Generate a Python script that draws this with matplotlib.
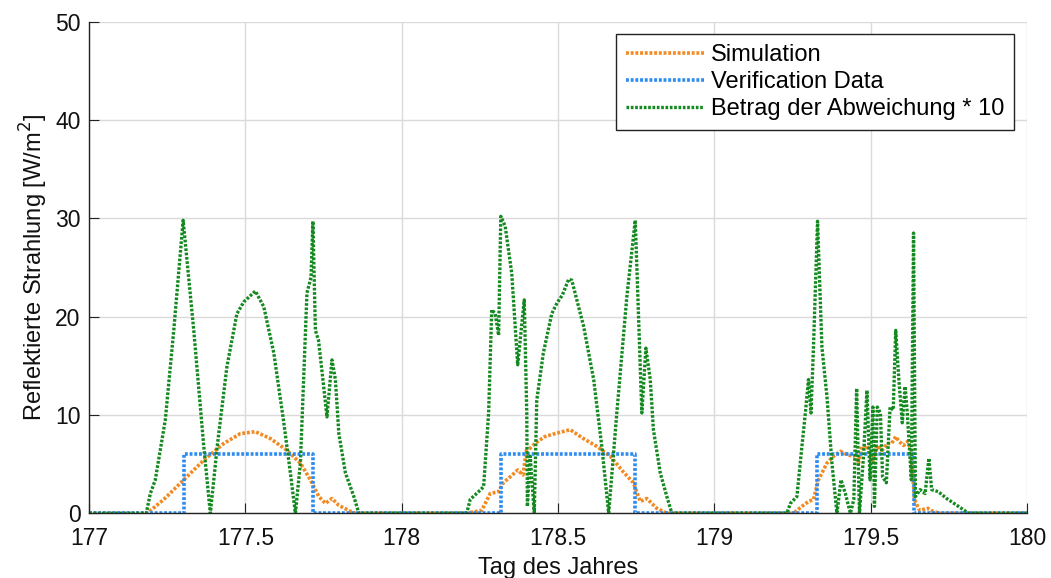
import numpy as np
import matplotlib.pyplot as plt

plt.rcParams['font.family'] = ['Liberation Sans', 'DejaVu Sans']

# Simulation (W/m^2) over day of year
sim_day = [177.0, 177.186, 177.239, 177.303, 177.367, 177.431, 177.484, 177.532,
           177.580, 177.633, 177.676, 177.708, 177.735, 177.756, 177.777, 177.799,
           177.836, 177.852,
           178.208, 178.256, 178.283, 178.309, 178.325, 178.347, 178.371, 178.388,
           178.399, 178.410, 178.426, 178.458, 178.490, 178.539, 178.581, 178.624,
           178.667, 178.709, 178.741, 178.763, 178.784, 178.816, 178.848,
           179.253, 179.280, 179.301, 179.317, 179.333, 179.360, 179.381, 179.403,
           179.429, 179.451, 179.461, 179.472, 179.488, 179.504, 179.520, 179.536,
           179.553, 179.567, 179.580, 179.591, 179.605, 179.618, 179.629, 179.640,
           179.656, 179.683, 179.699, 179.720, 180.0]
sim_val = [0.0, 0.0, 1.4, 3.4, 5.4, 7.1, 8.1, 8.3,
           7.6, 6.4, 5.1, 3.4, 1.7, 1.0, 1.5, 0.8,
           0.2, 0.0,
           0.0, 0.3, 2.0, 2.2, 3.1, 3.7, 4.4, 3.9,
           6.4, 6.6, 7.1, 7.8, 8.1, 8.5, 7.6, 6.8,
           5.8, 4.2, 3.1, 1.2, 1.5, 0.5, 0.0,
           0.0, 0.7, 1.2, 1.4, 3.4, 5.1, 5.8, 6.3,
           5.9, 5.8, 5.1, 6.8, 6.9, 5.1, 6.9, 6.4,
           7.1, 7.1, 7.8, 7.3, 6.9, 7.3, 6.4, 1.4,
           0.3, 0.5, 0.2, 0.0, 0.0]

# Verification data: constant level while measured
ver_on = [177.303, 178.317, 179.328]
ver_off = [177.717, 178.747, 179.639]
ver_level = 6.0

# Absolute deviation * 10
dev_day = [177.0, 177.183, 177.196, 177.212, 177.244, 177.271, 177.301, 177.335,
           177.367, 177.388, 177.410, 177.441, 177.473, 177.495, 177.532, 177.559,
           177.591, 177.623, 177.644, 177.660, 177.676, 177.697, 177.710, 177.716,
           177.724, 177.734, 177.748, 177.761, 177.777, 177.788, 177.799, 177.820,
           177.847, 177.863,
           178.208, 178.219, 178.246, 178.262, 178.278, 178.288, 178.299, 178.310,
           178.317, 178.331, 178.352, 178.371, 178.392, 178.400, 178.402, 178.411,
           178.424, 178.432, 178.453, 178.480, 178.497, 178.514, 178.534, 178.544,
           178.582, 178.614, 178.640, 178.662, 178.688, 178.720, 178.747, 178.768,
           178.781, 178.795, 178.805, 178.827, 178.848, 178.864,
           179.232, 179.243, 179.264, 179.280, 179.291, 179.301, 179.309, 179.317,
           179.330, 179.344, 179.360, 179.376, 179.392, 179.405, 179.419, 179.435,
           179.446, 179.455, 179.464, 179.477, 179.488, 179.498, 179.507, 179.512,
           179.521, 179.531, 179.538, 179.550, 179.562, 179.572, 179.580, 179.590,
           179.601, 179.610, 179.617, 179.630, 179.637, 179.643, 179.658, 179.674,
           179.686, 179.695, 179.716, 179.743, 179.776, 179.813, 180.0]
dev_val = [0.0, 0.0, 2.0, 3.4, 9.5, 18.6, 29.8, 18.6,
           6.8, 0.0, 6.8, 14.9, 20.3, 21.5, 22.6, 21.0,
           16.3, 9.2, 4.1, 0.0, 5.1, 22.4, 24.0, 29.7,
           18.6, 17.6, 13.6, 9.8, 15.6, 13.6, 8.1, 4.1,
           1.7, 0.0,
           0.0, 1.4, 2.2, 2.7, 10.2, 20.7, 20.3, 18.1,
           30.2, 29.2, 24.4, 15.1, 21.7, 10.2, 0.7, 5.8,
           0.0, 11.5, 16.3, 20.3, 21.4, 22.2, 23.8, 23.7,
           19.0, 13.6, 6.8, 0.0, 10.2, 22.0, 29.8, 10.2,
           16.8, 13.6, 8.5, 4.1, 1.7, 0.0,
           0.0, 1.0, 1.7, 6.8, 10.2, 13.6, 10.2, 16.9,
           29.7, 16.9, 11.9, 5.1, 0.0, 3.4, 2.0, 0.0,
           1.4, 12.7, 0.0, 5.8, 12.5, 3.4, 10.8, 0.7,
           10.8, 10.2, 3.7, 3.1, 10.8, 10.5, 18.6, 13.6,
           9.2, 12.9, 10.2, 3.4, 28.5, 1.7, 2.4, 2.0,
           5.6, 2.4, 2.2, 1.5, 0.8, 0.0, 0.0]

# build the step curve for the verification series
ver_day = [177.0]
ver_val = [0.0]
for a, b in zip(ver_on, ver_off):
    ver_day += [a, a, b, b]
    ver_val += [0.0, ver_level, ver_level, 0.0]
ver_day.append(180.0)
ver_val.append(0.0)

fig = plt.figure(figsize=(10.51, 5.78), dpi=100)
ax = fig.add_axes([0.0847, 0.112, 0.8925, 0.8505])

dots = (0, (0.8, 0.5))
ax.plot(sim_day, sim_val, color='#F28A23', lw=2.6, ls=dots, label='Simulation')
ax.plot(ver_day, ver_val, color='#2E8CF0', lw=2.6, ls=dots, label='Verification Data')
ax.plot(dev_day, dev_val, color='#13891F', lw=2.4, ls=dots,
        label='Betrag der Abweichung * 10')

ax.set_xlim(177, 180)
ax.set_ylim(0, 50)
ax.set_xticks(np.arange(177, 180.01, 0.5))
ax.set_xticklabels(['177', '177.5', '178', '178.5', '179', '179.5', '180'])
ax.set_yticks(np.arange(0, 51, 10))
ax.grid(True, color='#DADADA', lw=1.0)
ax.set_axisbelow(True)
for s in ['top', 'right']:
    ax.spines[s].set_visible(False)
for s in ['left', 'bottom']:
    ax.spines[s].set_color('#222222')
    ax.spines[s].set_linewidth(1.0)
ax.tick_params(direction='in', length=7, labelsize=16.5, colors='#222222',
               labelcolor='#111111')
ax.tick_params(axis='x', pad=10)
ax.tick_params(axis='y', pad=6)

ax.set_xlabel('Tag des Jahres', fontsize=17, labelpad=5, color='#111111')
ax.set_ylabel('Reflektierte Strahlung [W/m$^2$]', fontsize=17, labelpad=4,
              color='#111111')

leg = ax.legend(loc='upper right', bbox_to_anchor=(0.986, 0.975), fontsize=17,
                handlelength=3.3, handletextpad=0.3, borderpad=0.42,
                labelspacing=0.22, borderaxespad=0.0, fancybox=False,
                framealpha=1)
leg.get_frame().set_edgecolor('#222222')
leg.get_frame().set_linewidth(1.0)

fig.savefig('out.png', dpi=100)
